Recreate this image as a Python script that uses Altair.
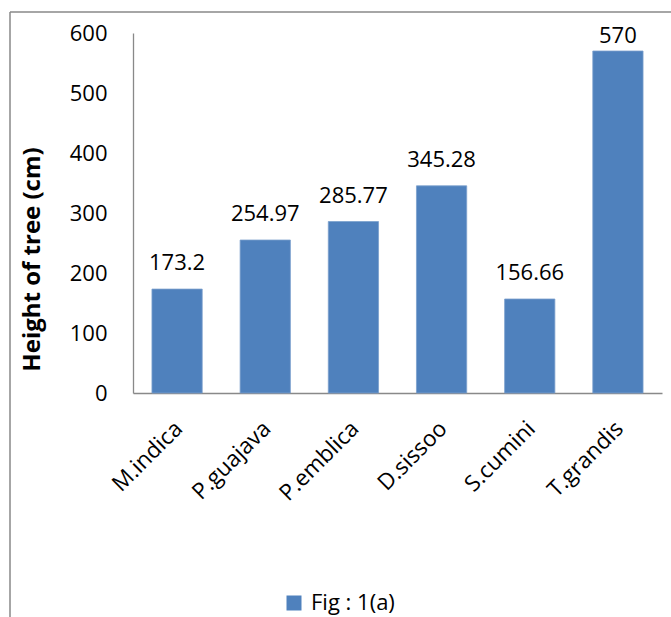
import altair as alt
import pandas as pd

# Tree species and mean height (cm)
species = ["M.indica", "P.guajava", "P.emblica", "D.sissoo", "S.cumini", "T.grandis"]
heights = [173.2, 254.97, 285.77, 345.28, 156.66, 570]
series_name = "Fig : 1(a)"

BAR = "#4F81BD"
GREY = "#898989"
FONT = "Open Sans"

df = pd.DataFrame({"species": species, "height": heights, "series": series_name})

base = alt.Chart(df)

x_enc = alt.X(
    "species:N",
    sort=species,
    scale=alt.Scale(paddingInner=0.43, paddingOuter=0.215),
    axis=alt.Axis(
        title=None,
        labelAngle=-45,
        labelAlign="right",
        labelBaseline="top",
        labelPadding=24,
        labelOffset=-6,
        ticks=False,
        domainColor=GREY,
        domainWidth=1.3,
        labelFontSize=22.5,
        labelColor="black",
        labelFont=FONT,
    ),
)

y_scale = alt.Scale(domain=[0, 600], nice=False)

bars = base.mark_bar(stroke="#7BA0CD", strokeWidth=0.8).encode(
    x=x_enc,
    y=alt.Y(
        "height:Q",
        scale=y_scale,
        axis=alt.Axis(
            title="Height of tree (cm)",
            values=[0, 100, 200, 300, 400, 500, 600],
            grid=False,
            ticks=False,
            labelPadding=26,
            domainColor=GREY,
            domainWidth=1.3,
            labelFontSize=22,
            labelColor="black",
            labelFont=FONT,
            titleFont=FONT,
            titleFontSize=24,
            titleFontWeight="bold",
            titleColor="black",
            titleX=-101,
            titleY=226,
            titleBaseline="middle",
        ),
    ),
    color=alt.Color(
        "series:N",
        scale=alt.Scale(range=[BAR]),
        legend=alt.Legend(
            title=None,
            orient="none",
            legendX=150,
            legendY=559,
            padding=0,
            symbolType="square",
            symbolSize=225,
            symbolStrokeWidth=0,
            labelFontSize=22,
            labelFont=FONT,
            labelColor="black",
            labelOffset=6,
        ),
    ),
)

# Value labels above each bar, kept inside the plot at the top
labels = base.transform_calculate(
    labelPos="min(datum.height + 31.7, 583)",
    labelText="'' + datum.height",
).mark_text(baseline="alphabetic", fontSize=22, font=FONT, color="black").encode(
    x=alt.X("species:N", sort=species),
    y=alt.Y("labelPos:Q", scale=y_scale),
    text="labelText:N",
)

# Outer chart frame (left and top edges)
frame_df = pd.DataFrame({"k": [0]})
frame_left = alt.Chart(frame_df).mark_rule(color=GREY, strokeWidth=1.5).encode(
    x=alt.value(-123), y=alt.value(-21), y2=alt.value(700)
)
frame_top = alt.Chart(frame_df).mark_rule(color=GREY, strokeWidth=1.5).encode(
    x=alt.value(-123), x2=alt.value(700), y=alt.value(-21)
)

chart = (
    alt.layer(bars, labels, frame_left, frame_top)
    .properties(
        width=529,
        height=360,
        autosize=alt.AutoSizeParams(type="none"),
        padding={"left": 133, "top": 33, "right": 9, "bottom": 224},
        background="white",
    )
    .configure_view(stroke=None)
)

chart.save("out.html", embed_options={"renderer": "svg", "actions": False})
